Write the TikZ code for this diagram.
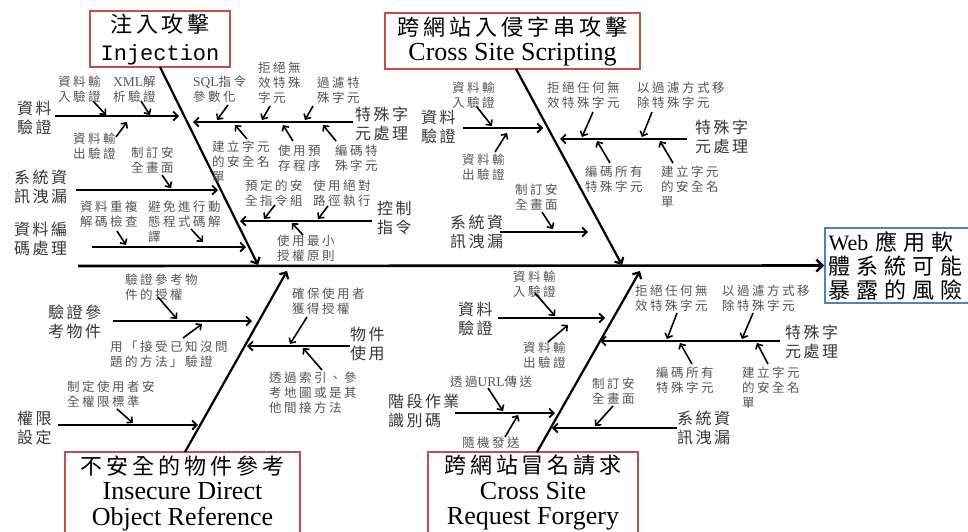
\documentclass[tikz,border=0pt]{standalone}
\usepackage{fontspec}
\setmainfont{Liberation Serif}
\setmonofont{Liberation Mono}
\newfontfamily\cjkn{Noto Sans CJK TC}[LetterSpace=20]
\newfontfamily\cjkc{Noto Sans CJK TC}[LetterSpace=15]
\newfontfamily\cjkt{Noto Sans CJK TC}[LetterSpace=18]
\newfontfamily\cjke{Noto Sans CJK TC}[LetterSpace=27]
\usetikzlibrary{arrows.meta}
\definecolor{notegray}{RGB}{85,85,85}
\definecolor{catgray}{RGB}{55,55,55}
\definecolor{boxred}{RGB}{192,80,77}
\definecolor{boxblue}{RGB}{79,129,189}
\newcommand\twigline[3]{\coordinate (#1a) at (#2); \coordinate (#1b) at (#3); \draw[twig] (#1a) -- (#1b);}
\newcommand\ribline[3]{\coordinate (#1a) at (#2); \coordinate (#1b) at (#3); \draw[rib] (#1a) -- (#1b);}
\newcommand\boneline[3]{\coordinate (#1a) at (#2); \coordinate (#1b) at (#3); \draw[bone] (#1a) -- (#1b);}
\newcommand\lat[1]{{\rmfamily\fontsize{13.5}{15}\selectfont #1}}
\tikzset{
 note/.style={font=\cjkn\fontsize{12.5}{15}\selectfont, text=notegray, align=left, inner sep=0pt, anchor=west},
 cat/.style={font=\cjkc\fontsize{16}{19.5}\selectfont, text=catgray, align=left, inner sep=0pt, anchor=west},
 bone/.style={line width=2.2pt, -{Straight Barb[length=5pt,width=10pt]}},
 rib/.style={line width=1.8pt, -{Straight Barb[length=4.5pt,width=9pt]}},
 twig/.style={line width=1.6pt, -{Straight Barb[length=4pt,width=8pt]}},
 spine/.style={line width=2.6pt, -{Straight Barb[length=6pt,width=12pt]}},
 titlebox/.style={draw=boxred, line width=1.6pt, inner sep=0pt, align=center, text=black},
}
\begin{document}
\begin{tikzpicture}[x=1pt,y=-1pt]
\path[use as bounding box] (0,0) rectangle (968,531);
\fill[white] (0,0) rectangle (968,531);

% category boxes
\node[titlebox, minimum width=140pt, minimum height=56pt, font=\fontsize{22}{28}\selectfont] (inj) at (160,39)
  {{\cjkt 注入攻擊}\\{\ttfamily Injection}};
\node[titlebox, minimum width=255pt, minimum height=56pt, font=\fontsize{22}{25}\selectfont] (xss) at (512.5,41)
  {{\cjkt 跨網站入侵字串攻擊}\\{\fontsize{26}{25}\selectfont Cross Site Scripting}};
\node[titlebox, minimum width=235pt, minimum height=82pt, font=\fontsize{26}{25.5}\selectfont] (idor) at (182.5,493)
  {{\cjkt\fontsize{22}{25.5}\selectfont 不安全的物件參考}\\Insecure Direct\\Object Reference};
\node[titlebox, minimum width=210pt, minimum height=82pt, font=\fontsize{26}{25.5}\selectfont] (csrf) at (533,493)
  {{\cjkt\fontsize{22}{25.5}\selectfont 跨網站冒名請求}\\Cross Site\\Request Forgery};

% effect box
\node[draw=boxblue, line width=1.6pt, minimum width=160pt, minimum height=75pt, inner xsep=3.5pt, inner ysep=0pt,
      text width=153pt, align=left, font=\cjke\fontsize{22}{24}\selectfont] (effect) at (905,265.5)
  {{\rmfamily\fontsize{22}{24}\selectfont Web} 應用軟\\體系統可能\\暴露的風險};

% spine
\coordinate (sp0) at (78,266);
\draw[spine] (sp0) -- (effect.west);

% bones
\boneline{bi}{160,67}{258,265}
\boneline{bx}{516,69}{622,265}
\boneline{bd}{185,452}{287,271}
\boneline{br}{537,452}{640,271}

% ===== Injection =====
\node[cat] (c1) at (17,118) {資料\\驗證};
\ribline{i1}{55,116}{179,116}
\node[note] (n1) at (58,89) {資料輸\\入驗證};
\node[note] (n2) at (113,89) {\lat{XML}解\\析驗證};
\node[note] (n3) at (73,146) {資料輸\\出驗證};
\twigline{t1}{93,101}{106,115}
\twigline{t2}{141,101}{150,115}
\twigline{t3}{116,137}{127,122}

\node[cat] (c2) at (14,187) {系統資\\訊洩漏};
\ribline{i2}{76,190}{218,190}
\node[note] (n4) at (131,160) {制訂安\\全畫面};
\twigline{t4}{162,175}{171,188}

\node[cat] (c3) at (14,239) {資料編\\碼處理};
\ribline{i3}{92,247}{246,247}
\node[note] (n5) at (80,214) {資料重複\\解碼檢查};
\node[note] (n6) at (148,222) {避免進行動\\態程式碼解\\譯};
\twigline{t5}{117,231}{126,245}
\twigline{t6}{191,229}{203,242}

\node[cat] (c4) at (355,124) {特殊字\\元處理};
\ribline{i4}{353,122}{193,122}
\node[note] (n7) at (193,89) {\lat{SQL}指令\\參數化};
\node[note] (n8) at (258,83) {拒絕無\\效特殊\\字元};
\node[note] (n9) at (317,90) {過濾特\\殊字元};
\node[note] (n10) at (212,162) {建立字元\\的安全名\\單};
\node[note] (n11) at (278,158) {使用預\\存程序};
\node[note] (n12) at (335,158) {編碼特\\殊字元};
\twigline{t7}{228,105}{217,120}
\twigline{t8}{270,106}{262,120}
\twigline{t9}{313,106}{305,120}
\twigline{t10}{247,139}{235,125}
\twigline{t11}{293,141}{283,125}
\twigline{t12}{336,141}{323,125}

\node[cat] (c5) at (377,218) {控制\\指令};
\ribline{i5}{372,221}{240,221}
\node[note] (n13) at (245,193) {預定的安\\全指令組};
\node[note] (n14) at (313,193) {使用絕對\\路徑執行};
\node[note] (n15) at (277,248) {使用最小\\授權原則};
\twigline{t13}{275,205}{264,219}
\twigline{t14}{328,206}{318,219}
\twigline{t15}{303,235}{292,223}

% ===== XSS =====
\node[cat] (c6) at (421,127) {資料\\驗證};
\ribline{x1}{463,128}{543,128}
\node[note] (n16) at (452,95) {資料輸\\入驗證};
\node[note] (n17) at (462,167) {資料輸\\出驗證};
\twigline{t16}{477,107}{492,126}
\twigline{t17}{495,152}{507,133}

\node[cat] (c7) at (695,137) {特殊字\\元處理};
\ribline{x2}{687,139}{560,139}
\node[note] (n18) at (547,95) {拒絕任何無\\效特殊字元};
\node[note] (n19) at (637,95) {以過濾方式移\\除特殊字元};
\node[note] (n20) at (585,179) {編碼所有\\特殊字元};
\node[note] (n21) at (661,187) {建立字元\\的安全名\\單};
\twigline{t18}{593,112}{582,137}
\twigline{t19}{652,112}{642,137}
\twigline{t20}{610,163}{597,141}
\twigline{t21}{673,163}{660,141}

\node[cat] (c8) at (450,232) {系統資\\訊洩漏};
\ribline{x3}{500,232}{588,232}
\node[note] (n22) at (515,197) {制訂安\\全畫面};
\twigline{t22}{542,212}{553,229}

% ===== IDOR =====
\node[cat] (c9) at (48,322) {驗證參\\考物件};
\ribline{d1}{113,321}{252,321}
\node[note] (n23) at (125,287) {驗證參考物\\件的授權};
\node[note] (n24) at (110,354) {用「接受已知沒問\\題的方法」驗證};
\twigline{t23}{158,297}{177,319}
\twigline{t24}{183,338}{202,324}

\node[cat] (c10) at (17,428) {權限\\設定};
\ribline{d2}{58,425}{198,425}
\node[note] (n25) at (67,394) {制定使用者安\\全權限標準};
\twigline{t25}{117,409}{133,423}

\node[cat] (c11) at (350,344) {物件\\使用};
\ribline{d3}{350,346}{247,346}
\node[note] (n26) at (292,301) {確保使用者\\獲得授權};
\node[note] (n27) at (269,393) {透過索引、參\\考地圖或是其\\他間接方法};
\twigline{t26}{307,317}{290,344}
\twigline{t27}{322,370}{303,348}

% ===== CSRF =====
\node[cat] (c12) at (458,319) {資料\\驗證};
\ribline{r1}{498,318}{605,318}
\node[note] (n28) at (513,284) {資料輸\\入驗證};
\node[note] (n29) at (523,355) {資料輸\\出驗證};
\twigline{t28}{535,293}{555,316}
\twigline{t29}{548,342}{568,325}

\node[cat] (c13) at (388,411) {階段作業\\識別碼};
\ribline{r2}{455,413}{555,413}
\node[note] (n30) at (450,382) {透過\lat{URL}傳送};
\node[note] (n31) at (462,443) {隨機發送};
\twigline{t30}{488,388}{503,411}
\twigline{t31}{505,437}{518,415}

\node[cat] (c14) at (785,342) {特殊字\\元處理};
\ribline{r3}{780,341}{600,341}
\node[note] (n32) at (635,298) {拒絕任何無\\效特殊字元};
\node[note] (n33) at (722,298) {以過濾方式移\\除特殊字元};
\node[note] (n34) at (656,380) {編碼所有\\特殊字元};
\node[note] (n35) at (742,388) {建立字元\\的安全名\\單};
\twigline{t32}{677,313}{667,339}
\twigline{t33}{753,313}{742,339}
\twigline{t34}{692,364}{680,343}
\twigline{t35}{768,364}{757,343}

\node[cat] (c15) at (677,428) {系統資\\訊洩漏};
\ribline{r4}{677,428}{552,428}
\node[note] (n36) at (592,391) {制訂安\\全畫面};
\twigline{t36}{613,406}{595,426}
\end{tikzpicture}
\end{document}
